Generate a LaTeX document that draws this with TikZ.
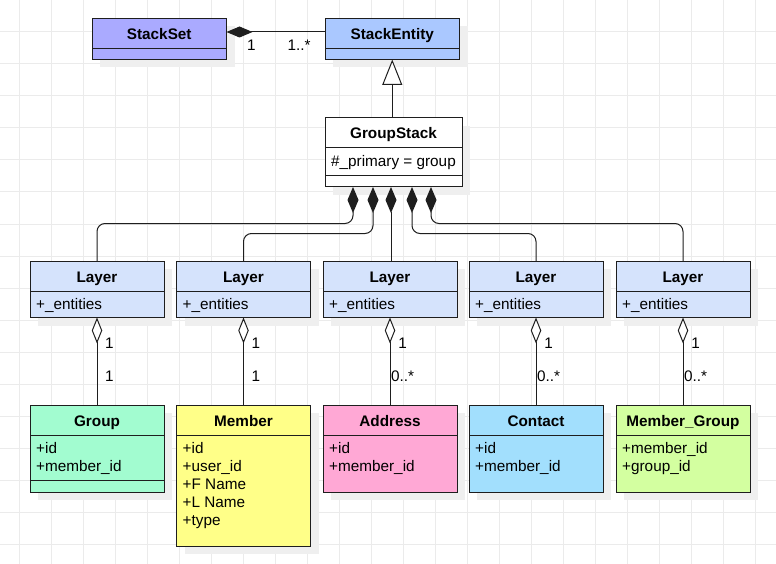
\documentclass[tikz,border=0pt]{standalone}
\usepackage{fontspec}
\setmainfont{Liberation Sans}
\usetikzlibrary{arrows.meta,calc}
\definecolor{gridc}{HTML}{EBEBEB}
\definecolor{shadowc}{HTML}{EFEFEF}
\definecolor{strokec}{HTML}{1E1E1E}
\definecolor{cStackSet}{HTML}{AAAAFF}
\definecolor{cStackEntity}{HTML}{AAC8FF}
\definecolor{cLayer}{HTML}{D5E3FC}
\definecolor{cGroup}{HTML}{A2FCD0}
\definecolor{cMember}{HTML}{FFFF88}
\definecolor{cAddress}{HTML}{FFA8D5}
\definecolor{cContact}{HTML}{A2DFFD}
\definecolor{cMemberGroup}{HTML}{D3FFA0}
\newcommand\umlbox[6]{%
  \fill[shadowc] (#2+8,#3+8) rectangle ++(#4,#5);
  \node[box, fill=#6, minimum width=#4pt, minimum height=#5pt, anchor=north west] (#1) at (#2,#3) {};
}
\newcommand\umldiv[2]{\draw[boxline] ($(#1.north west)+(0,#2)$) -- ($(#1.north east)+(0,#2)$);}
\newcommand\umltitle[2]{\node[title] (#1-t) at ($(#1.north)+(0,21)$) {#2};}
\newcommand\umlattr[4]{\node[attr] (#1-#2) at ($(#1.north west)+(6,#3)$) {#4};}
\begin{document}
\begin{tikzpicture}[x=1pt,y=-1pt,
  box/.style={draw=strokec, line width=1pt, inner sep=0pt, outer sep=0pt},
  boxline/.style={draw=strokec, line width=1pt},
  title/.style={font=\bfseries\fontsize{15.3}{18}\selectfont, inner sep=0pt, anchor=base},
  attr/.style={font=\fontsize{15.3}{18}\selectfont, inner sep=0pt, anchor=base west},
  lbl/.style={font=\fontsize{15.3}{18}\selectfont, inner sep=0pt, anchor=base},
  conn/.style={draw=strokec, line width=1pt},
  comp/.style={conn, -{Diamond[length=26pt,width=11pt,fill=strokec]}},
  aggr/.style={conn, -{Diamond[length=26pt,width=10.5pt,fill=white]}},
  inherit/.style={conn, -{Triangle[length=25.5pt,width=20pt,fill=white]}}
]
\useasboundingbox (0,0) rectangle (776,564);
\fill[white] (0,0) rectangle (776,564);
\foreach \gx in {19,51,...,755} \draw[gridc, line width=1pt] (\gx,0) -- (\gx,564);
\foreach \gy in {0,32,...,544} \draw[gridc, line width=1pt] (0,\gy) -- (776,\gy);

% top row
\umlbox{stackset}{92}{18.5}{134.5}{41}{cStackSet}
\umldiv{stackset}{30.5}
\umltitle{stackset}{StackSet}
\umlbox{stackentity}{325}{18.5}{134.5}{41}{cStackEntity}
\umldiv{stackentity}{30.5}
\umltitle{stackentity}{StackEntity}

% GroupStack
\umlbox{groupstack}{325}{118}{137}{69}{white}
\umldiv{groupstack}{30}
\umldiv{groupstack}{58}
\umltitle{groupstack}{GroupStack}
\umlattr{groupstack}{a1}{48.5}{\#\_primary = group}

% Layers
\foreach \i/\lx in {1/30,2/176.5,3/323,4/469,5/616}{
  \umlbox{layer\i}{\lx}{261}{134}{56.5}{cLayer}
  \umldiv{layer\i}{30.5}
  \umltitle{layer\i}{Layer}
  \umlattr{layer\i}{a1}{48}{+\_entities}
}

% bottom classes
\umlbox{group}{30}{405}{134}{87}{cGroup}
\umldiv{group}{30.5}
\umldiv{group}{75.5}
\umltitle{group}{Group}
\umlattr{group}{a1}{48}{+id}
\umlattr{group}{a2}{66}{+member\_id}

\umlbox{member}{176.5}{405}{134}{141}{cMember}
\umldiv{member}{30.5}
\umltitle{member}{Member}
\umlattr{member}{a1}{48}{+id}
\umlattr{member}{a2}{66}{+user\_id}
\umlattr{member}{a3}{84}{+F Name}
\umlattr{member}{a4}{102}{+L Name}
\umlattr{member}{a5}{120}{+type}

\umlbox{address}{323}{405}{134}{87}{cAddress}
\umldiv{address}{30.5}
\umltitle{address}{Address}
\umlattr{address}{a1}{48}{+id}
\umlattr{address}{a2}{66}{+member\_id}

\umlbox{contact}{469}{405}{134}{87}{cContact}
\umldiv{contact}{30.5}
\umltitle{contact}{Contact}
\umlattr{contact}{a1}{48}{+id}
\umlattr{contact}{a2}{66}{+member\_id}

\umlbox{membergroup}{616}{405}{134}{87}{cMemberGroup}
\umldiv{membergroup}{30.5}
\umltitle{membergroup}{Member\_Group}
\umlattr{membergroup}{a1}{48}{+member\_id}
\umlattr{membergroup}{a2}{66}{+group\_id}

% StackSet - StackEntity composition
\draw[comp] (stackentity.west |- 0,32) -- (stackset.east |- 0,32);
\node[lbl] (ss-m1) at ($(stackset.east)+(25,11.2)$) {1};
\node[lbl] (ss-m2) at ($(stackentity.west)+(-26,11.2)$) {1..*};

% inheritance
\draw[inherit] (stackentity.south |- groupstack.north) -- (stackentity.south);

% GroupStack compositions
\coordinate (gs1) at ($(groupstack.south west)+(28,0)$);
\coordinate (gs2) at ($(groupstack.south west)+(48,0)$);
\coordinate (gs3) at ($(groupstack.south west)+(66,0)$);
\coordinate (gs4) at ($(groupstack.south west)+(87,0)$);
\coordinate (gs5) at ($(groupstack.south west)+(106,0)$);
\draw[comp, rounded corners=8pt] (layer1.north) |- ($(gs1)+(0,36.5)$) -- (gs1);
\draw[comp, rounded corners=8pt] (layer2.north) |- ($(gs2)+(0,46.5)$) -- (gs2);
\draw[comp] (gs3 |- layer3.north) -- (gs3);
\draw[comp, rounded corners=8pt] (layer4.north) |- ($(gs4)+(0,46.5)$) -- (gs4);
\draw[comp, rounded corners=8pt] (layer5.north) |- ($(gs5)+(0,36.5)$) -- (gs5);

% aggregations
\foreach \i/\c/\m in {1/group/1,2/member/1,3/address/0..*,4/contact/0..*,5/membergroup/0..*}{
  \draw[aggr] (\c.north) -- (layer\i.south);
  \node[lbl] (agg\i-s) at ($(layer\i.south)+(12.5,31)$) {1};
  \node[lbl] (agg\i-t) at ($(layer\i.south)+(12.5,64.2)$) {\m};
}
\end{tikzpicture}
\end{document}
